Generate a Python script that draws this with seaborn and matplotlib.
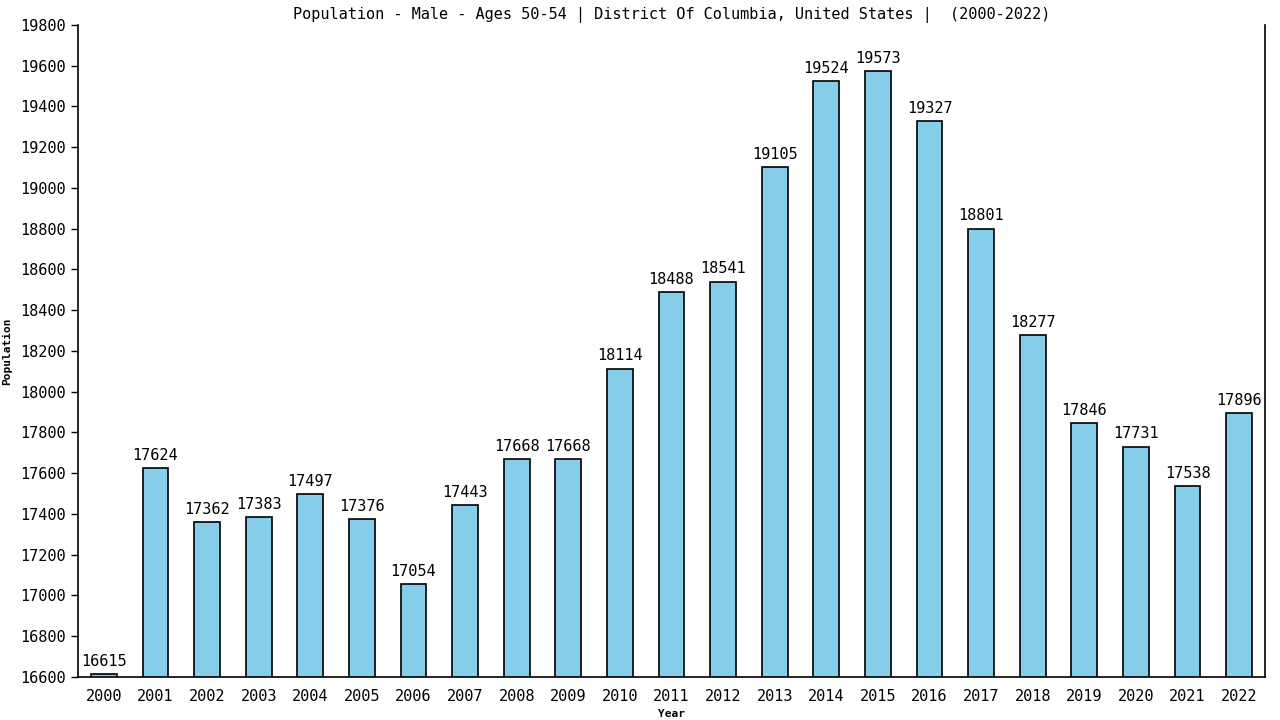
import pandas as pd
import matplotlib.pyplot as plt
import seaborn as sns

years = [str(y) for y in range(2000, 2023)]
population = [16615, 17624, 17362, 17383, 17497, 17376, 17054, 17443, 17668, 17668,
              18114, 18488, 18541, 19105, 19524, 19573, 19327, 18801, 18277, 17846,
              17731, 17538, 17896]
y_ticks = list(range(16600, 19801, 200))

df = pd.DataFrame({'Year': years, 'Population': population})

sns.set_theme(style="white")
plt.rcParams['font.family'] = ['DejaVu Sans Mono', 'DejaVu Sans']
plt.rcParams['text.color'] = 'black'
plt.rcParams['axes.labelcolor'] = 'black'

fig = plt.figure(figsize=(12.8, 7.2), dpi=100)
ax = fig.add_axes([78 / 1280, 43 / 720, (1265 - 78) / 1280, (677 - 25) / 720])

sns.barplot(data=df, x='Year', y='Population', color='#87CEEB', width=0.5,
            edgecolor='black', linewidth=1.2, saturation=1, ax=ax)

for i, v in enumerate(population):
    ax.text(i, v + 25, str(v), ha='center', va='bottom', fontsize=11, color='black')

ax.set_ylim(16600, 19800)
ax.set_xlim(-0.5, len(years) - 0.5)
ax.set_yticks(y_ticks)
ax.tick_params(axis='both', labelsize=11, length=5, width=1, colors='black',
               left=True, bottom=False)
ax.set_xlabel('Year', fontsize=8, fontweight='bold', labelpad=4, color='black')
ax.set_ylabel('Population', fontsize=8, fontweight='bold', labelpad=6, color='black')
ax.set_title('Population - Male - Ages 50-54 | District Of Columbia, United States |  (2000-2022)',
             fontsize=11, pad=4, color='black')

for side in ['left', 'bottom', 'right']:
    ax.spines[side].set_color('black')
    ax.spines[side].set_linewidth(1.2)
ax.spines['top'].set_visible(False)

fig.savefig('out.png', dpi=100)
